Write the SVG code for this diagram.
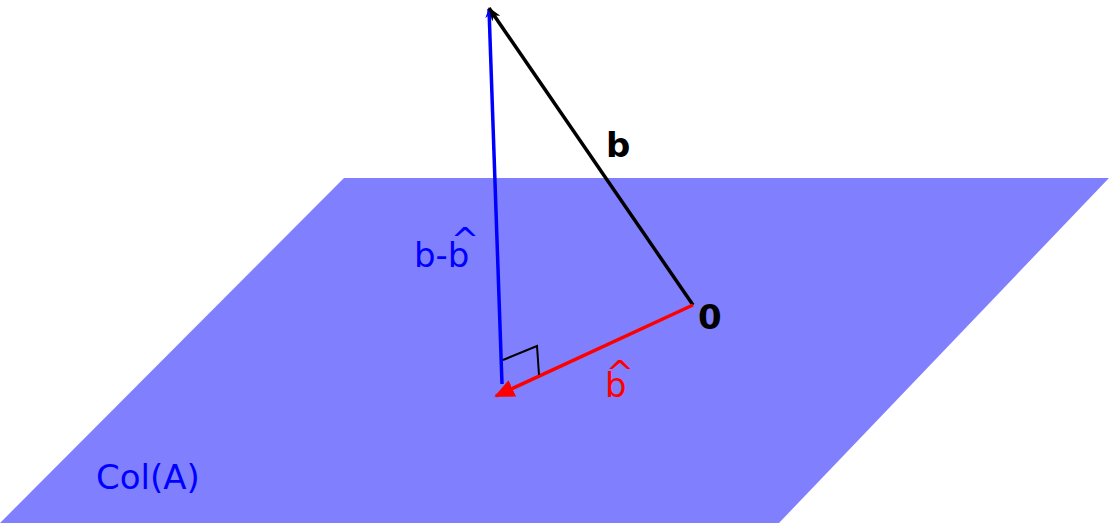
<svg xmlns="http://www.w3.org/2000/svg" width="1109" height="523" viewBox="0 0 1109 523">
<style>
text{font-family:"DejaVu Sans",sans-serif;font-size:34px}
.v{fill:none;stroke-width:3.5}
</style>
<defs>
<marker id="ak" markerWidth="14" markerHeight="10" refX="13" refY="5" orient="auto" markerUnits="userSpaceOnUse"><path d="M0,0 L14,5 L0,10 L4,5 Z" fill="#000"/></marker>
<marker id="ab" markerWidth="10" markerHeight="8" refX="9" refY="4" orient="auto" markerUnits="userSpaceOnUse"><path d="M0,0 L10,4 L0,8 L3,4 Z" fill="#0000ff"/></marker>
<marker id="ar" markerWidth="20" markerHeight="18" refX="18" refY="9" orient="auto" markerUnits="userSpaceOnUse"><path d="M0,0 L20,9 L0,18 Z" fill="#ff0000"/></marker>
</defs>
<g id="plane"><polygon points="344,178 1109,178 779,523 0,523" fill="#8080ff"/></g>
<g id="connectors">
<line class="v" x1="502" y1="384" x2="489" y2="9" stroke="#0000ff" marker-end="url(#ab)"/>
<line class="v" x1="693" y1="305" x2="489" y2="8" stroke="#000" marker-end="url(#ak)"/>
<line class="v" x1="693" y1="305" x2="496" y2="396" stroke="#ff0000" marker-end="url(#ar)"/>
<polyline points="503,360 537,346 539,375" fill="none" stroke="#000" stroke-width="2"/>
</g>
<g id="labels">
<text x="606" y="157" font-weight="bold">b</text>
<text x="698" y="329" font-weight="bold">0</text>
<text x="414" y="267" fill="#0000ff">b-b<tspan dx="-18.7" dy="-15">^</tspan></text>
<text x="605" y="397" fill="#ff0000">b<tspan dx="-20.8" dy="-12">^</tspan></text>
<text x="96" y="489" fill="#0000ff">Col(A)</text>
</g>
</svg>
